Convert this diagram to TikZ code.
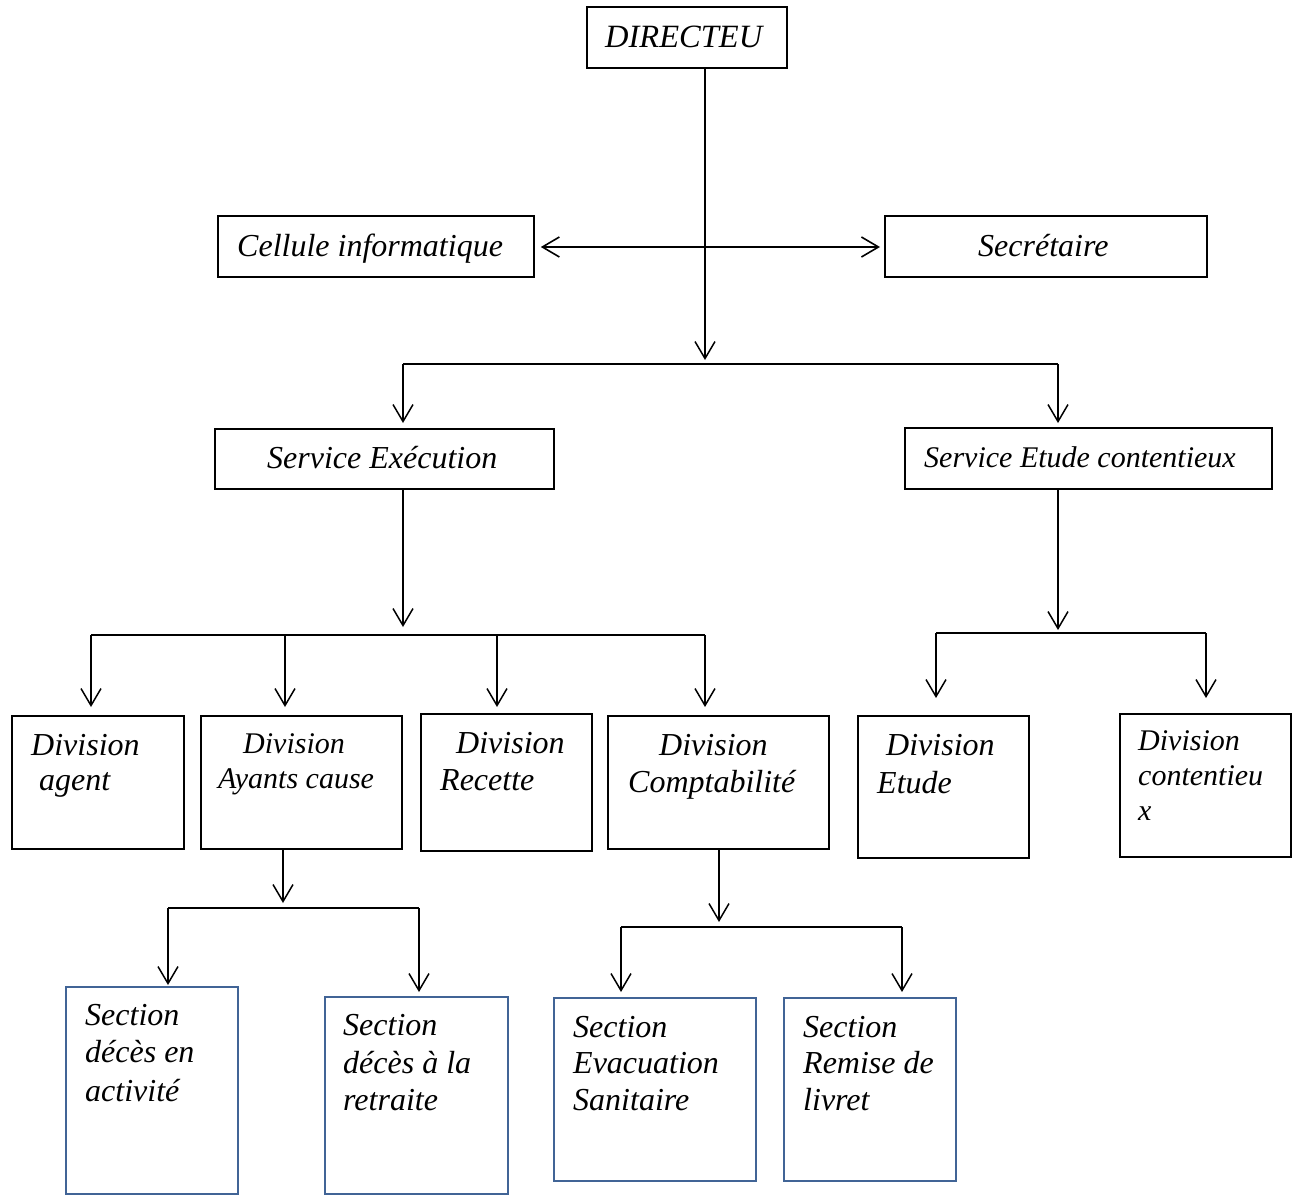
\documentclass[tikz,border=0pt]{standalone}
\usepackage{fontspec}
\setmainfont{Liberation Serif}
\usetikzlibrary{arrows.meta}
\definecolor{secblue}{RGB}{65,100,150}
\begin{document}
\begin{tikzpicture}[x=1pt,y=-1pt,
  >={Straight Barb[length=17pt,width=20pt]},
  box/.style={draw=black, line width=1.8pt, rectangle, inner sep=0pt, anchor=north west},
  bluebox/.style={box, draw=secblue},
  t/.style={anchor=base west, inner sep=0pt, font=\fontsize{32}{38}\selectfont\itshape},
  ts/.style={anchor=base west, inner sep=0pt, font=\fontsize{30}{36}\selectfont\itshape},
  ln/.style={line width=1.5pt, draw=black},
  arr/.style={ln, ->},
  dbl/.style={ln, <->}
]
\useasboundingbox (0,0) rectangle (1292,1194);

% ---------- boxes ----------
\node[box, minimum width=200pt, minimum height=61pt] (dir) at (586,6) {};
\node[box, minimum width=316pt, minimum height=61pt] (cell) at (217,215) {};
\node[box, minimum width=322pt, minimum height=61pt] (sec) at (884,215) {};
\node[box, minimum width=339pt, minimum height=60pt] (sexe) at (214,428) {};
\node[box, minimum width=367pt, minimum height=61pt] (setu) at (904,427) {};
\node[box, minimum width=172pt, minimum height=133pt] (dage) at (11,715) {};
\node[box, minimum width=201pt, minimum height=133pt] (daya) at (200,715) {};
\node[box, minimum width=171pt, minimum height=137pt] (drec) at (420,713) {};
\node[box, minimum width=221pt, minimum height=133pt] (dcom) at (607,715) {};
\node[box, minimum width=171pt, minimum height=142pt] (detu) at (857,715) {};
\node[box, minimum width=171pt, minimum height=143pt] (dcon) at (1119,713) {};
\node[bluebox, minimum width=172pt, minimum height=207pt] (sact) at (65,986) {};
\node[bluebox, minimum width=183pt, minimum height=197pt] (sret) at (324,996) {};
\node[bluebox, minimum width=202pt, minimum height=183pt] (seva) at (553,997) {};
\node[bluebox, minimum width=172pt, minimum height=183pt] (srem) at (783,997) {};

% ---------- texts ----------
\node[t, font=\fontsize{32.5}{38}\selectfont\itshape] (tdir) at (605,47) {DIRECTEU};
\node[t] (tcell) at (237,256) {Cellule informatique};
\node[t] (tsec) at (978,256) {Secrétaire};
\node[t] (tsexe) at (267,468) {Service Exécution};
\node[ts] (tsetu) at (924,467) {Service Etude contentieux};

\node[t] (tdage1) at (31,755) {Division};
\node[t] (tdage2) at (39,790) {agent};
\node[ts] (tdaya1) at (243,753) {Division};
\node[ts] (tdaya2) at (218,788) {Ayants cause};
\node[t] (tdrec1) at (456,753) {Division};
\node[t] (tdrec2) at (440,790) {Recette};
\node[t] (tdcom1) at (659,755) {Division};
\node[t] (tdcom2) at (628,792) {Comptabilité};
\node[t] (tdetu1) at (886,755) {Division};
\node[t] (tdetu2) at (877,793) {Etude};
\node[ts] (tdcon1) at (1138,750) {Division};
\node[ts] (tdcon2) at (1138,785) {contentieu};
\node[ts] (tdcon3) at (1138,820) {x};

\node[t] (tsact1) at (85,1025) {Section};
\node[t] (tsact2) at (85,1062) {décès en};
\node[t] (tsact3) at (85,1101) {activité};
\node[t] (tsret1) at (343,1035) {Section};
\node[t] (tsret2) at (343,1073) {décès à la};
\node[t] (tsret3) at (343,1110) {retraite};
\node[t] (tseva1) at (573,1037) {Section};
\node[t] (tseva2) at (573,1073) {Evacuation};
\node[t] (tseva3) at (573,1110) {Sanitaire};
\node[t] (tsrem1) at (803,1037) {Section};
\node[t] (tsrem2) at (803,1073) {Remise de};
\node[t] (tsrem3) at (803,1110) {livret};

% ---------- junction coordinates ----------
\coordinate (jd) at (705,247);
\coordinate (j0) at (705,364);
\coordinate (j0l) at (403,364);
\coordinate (j0r) at (1058,364);
\coordinate (j1) at (403,635);
\coordinate (j1l) at (91,635);
\coordinate (j1b) at (285,635);
\coordinate (j1c) at (497,635);
\coordinate (j1r) at (705,635);
\coordinate (j2) at (1058,633);
\coordinate (j2l) at (936,633);
\coordinate (j2r) at (1206,633);
\coordinate (j3) at (283,908);
\coordinate (j3l) at (168,908);
\coordinate (j3r) at (419,908);
\coordinate (j4) at (719,927);
\coordinate (j4l) at (621,927);
\coordinate (j4r) at (902,927);

% ---------- connectors ----------
\draw[arr, shorten >=4pt] (dir.south -| j0) -- (j0);
\draw[dbl, line width=1.6pt, shorten <=6pt, shorten >=4pt] (cell.east |- jd) -- (sec.west |- jd);
\draw[ln] (j0l) -- (j0r);
\draw[arr, shorten >=5pt] (j0l) -- (j0l |- sexe.north);
\draw[arr, shorten >=4pt] (j0r) -- (j0r |- setu.north);

\draw[arr, shorten >=8pt] (j1 |- sexe.south) -- (j1);
\draw[ln] (j1l) -- (j1r);
\draw[arr, shorten >=8pt] (j1l) -- (j1l |- dage.north);
\draw[arr, shorten >=8pt] (j1b) -- (j1b |- daya.north);
\draw[arr, shorten >=6pt] (j1c) -- (j1c |- drec.north);
\draw[arr, shorten >=8pt] (j1r) -- (j1r |- dcom.north);

\draw[arr, shorten >=3pt] (j2 |- setu.south) -- (j2);
\draw[ln] (j2l) -- (j2r);
\draw[arr, shorten >=17pt] (j2l) -- (j2l |- detu.north);
\draw[arr, shorten >=15pt] (j2r) -- (j2r |- dcon.north);

\draw[arr, shorten >=5pt] (j3 |- daya.south) -- (j3);
\draw[ln] (j3l) -- (j3r);
\draw[arr, shorten >=1pt] (j3l) -- (j3l |- sact.north);
\draw[arr, shorten >=4pt] (j3r) -- (j3r |- sret.north);

\draw[arr, shorten >=5pt] (j4 |- dcom.south) -- (j4);
\draw[ln] (j4l) -- (j4r);
\draw[arr, shorten >=5pt] (j4l) -- (j4l |- seva.north);
\draw[arr, shorten >=5pt] (j4r) -- (j4r |- srem.north);
\end{tikzpicture}
\end{document}
